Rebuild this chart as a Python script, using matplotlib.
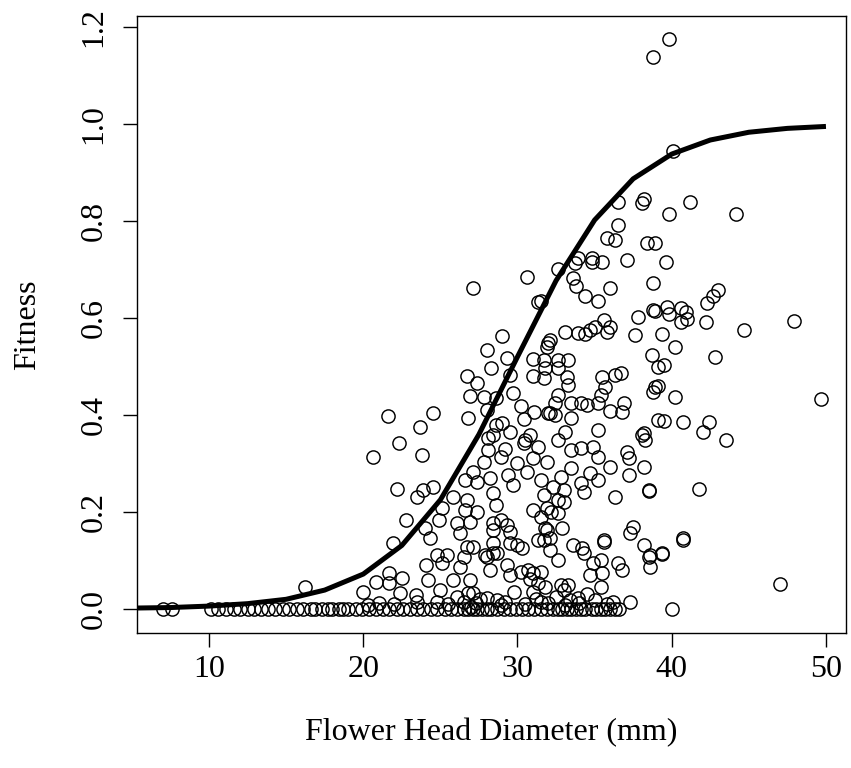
import matplotlib
matplotlib.use('Agg')
import matplotlib.pyplot as plt

plt.rcParams['font.family'] = ['Liberation Serif', 'DejaVu Serif']

# plants with zero fitness
zero_x = [7.0, 7.6, 10.1, 10.6, 11.1, 11.6, 12.0, 12.5, 12.9, 13.4, 13.8, 14.3,
          14.8, 15.2, 15.7, 16.1, 16.6, 16.9, 17.3, 17.7, 18.0, 18.4, 18.7, 19.0,
          19.5, 19.9, 20.4, 20.8, 21.3, 21.7, 22.2, 22.6, 23.0, 23.5, 23.9, 24.4,
          24.8, 25.3, 25.7, 26.1, 26.5, 26.8, 27.1, 27.4, 27.7, 28.0, 28.3, 28.7,
          29.1, 29.5, 29.9, 30.3, 30.7, 31.1, 31.5, 31.9, 32.3, 32.6, 32.9, 33.2,
          33.5, 33.8, 34.1, 34.4, 34.8, 35.1, 35.4, 35.7, 36.0, 36.3, 36.6, 40.0]

# low fitness (< 0.15)
low_pts = [(16.2, 0.045), (20.0, 0.035), (20.8, 0.056), (21.7, 0.074), (21.7, 0.054),
           (22.5, 0.064), (22.4, 0.033), (23.4, 0.029), (24.1, 0.091), (24.2, 0.060),
           (24.8, 0.112), (25.4, 0.112), (25.1, 0.095), (25.0, 0.039), (26.3, 0.087),
           (25.8, 0.060), (27.1, 0.128), (26.5, 0.107), (26.9, 0.060), (27.1, 0.033),
           (26.8, 0.033), (28.0, 0.107), (28.4, 0.116), (29.3, 0.091), (29.5, 0.070),
           (30.0, 0.132), (30.3, 0.126), (30.7, 0.081), (30.2, 0.076), (29.8, 0.035),
           (31.0, 0.035), (28.7, 0.019), (28.0, 0.023), (26.1, 0.025), (24.8, 0.014),
           (23.5, 0.014), (20.3, 0.008), (24.3, 0.147), (21.9, 0.136), (26.7, 0.128),
           (28.4, 0.136), (29.5, 0.136), (27.9, 0.111), (28.7, 0.115), (28.2, 0.080),
           (31.5, 0.076), (30.8, 0.062), (31.7, 0.143), (32.1, 0.122), (32.6, 0.101),
           (33.6, 0.132), (34.2, 0.126), (34.3, 0.116), (35.6, 0.138), (35.4, 0.101),
           (34.9, 0.095), (34.7, 0.070), (35.5, 0.074), (35.4, 0.045), (36.5, 0.095),
           (36.8, 0.081), (38.2, 0.132), (38.6, 0.112), (39.4, 0.116), (38.6, 0.087),
           (40.7, 0.143), (31.0, 0.074), (31.3, 0.054), (31.8, 0.045), (32.8, 0.050),
           (33.3, 0.050), (33.0, 0.039), (33.9, 0.023), (33.4, 0.019), (31.5, 0.014),
           (36.2, 0.014), (37.3, 0.014), (47.0, 0.052), (38.5, 0.107), (39.4, 0.113),
           (27.3, 0.012), (27.6, 0.020), (28.9, 0.008), (29.2, 0.015), (30.5, 0.010),
           (31.2, 0.020), (32.0, 0.012), (32.5, 0.025), (33.1, 0.008), (34.0, 0.012),
           (34.5, 0.030), (35.0, 0.018), (35.8, 0.010), (27.0, 0.005), (26.5, 0.015),
           (25.5, 0.010), (22.0, 0.010), (21.0, 0.012)]

# middle fitness (0.15 - 0.45)
mid_pts = [(21.6, 0.397), (24.5, 0.405), (23.7, 0.376), (22.3, 0.343), (20.6, 0.314),
           (23.8, 0.318), (22.2, 0.248), (23.5, 0.231), (23.9, 0.246), (24.5, 0.252),
           (22.8, 0.184), (24.9, 0.184), (26.9, 0.439), (27.8, 0.437), (28.6, 0.435),
           (29.7, 0.445), (26.8, 0.394), (28.0, 0.410), (30.2, 0.419), (31.1, 0.406),
           (30.4, 0.392), (28.6, 0.379), (29.0, 0.383), (29.5, 0.365), (28.4, 0.359),
           (28.1, 0.353), (30.8, 0.359), (30.5, 0.348), (31.3, 0.334), (28.1, 0.328),
           (29.2, 0.330), (28.9, 0.313), (32.0, 0.404), (30.4, 0.342), (30.0, 0.301),
           (31.0, 0.311), (27.8, 0.303), (27.1, 0.282), (28.2, 0.270), (29.4, 0.276),
           (30.6, 0.282), (31.5, 0.266), (26.6, 0.266), (27.4, 0.262), (29.7, 0.256),
           (25.8, 0.231), (26.7, 0.225), (28.4, 0.239), (31.7, 0.235), (25.1, 0.208),
           (26.6, 0.204), (27.4, 0.200), (28.6, 0.214), (31.0, 0.204), (31.5, 0.190),
           (26.1, 0.177), (26.9, 0.179), (28.4, 0.177), (28.9, 0.184), (29.3, 0.173),
           (24.0, 0.167), (26.3, 0.157), (28.4, 0.163), (29.5, 0.159), (31.8, 0.167),
           (31.3, 0.142), (32.6, 0.441), (35.4, 0.441), (38.8, 0.447), (32.4, 0.425),
           (33.5, 0.425), (34.1, 0.425), (34.5, 0.421), (35.2, 0.425), (36.9, 0.425),
           (32.1, 0.404), (33.5, 0.394), (36.0, 0.408), (36.8, 0.406), (32.4, 0.400),
           (35.2, 0.369), (33.1, 0.365), (38.2, 0.363), (39.1, 0.390), (32.6, 0.348),
           (38.1, 0.359), (38.3, 0.348), (31.9, 0.303), (33.5, 0.328), (34.1, 0.332),
           (34.9, 0.334), (35.2, 0.313), (36.0, 0.293), (37.1, 0.324), (37.2, 0.311),
           (38.2, 0.293), (37.2, 0.276), (32.8, 0.272), (33.5, 0.291), (34.7, 0.280),
           (35.2, 0.266), (34.1, 0.260), (32.3, 0.252), (33.0, 0.245), (34.3, 0.241),
           (36.3, 0.231), (38.5, 0.245), (32.6, 0.225), (33.0, 0.221), (31.9, 0.208),
           (32.2, 0.200), (32.6, 0.198), (37.5, 0.169), (37.3, 0.157), (32.9, 0.167),
           (31.9, 0.163), (35.6, 0.142), (32.1, 0.146), (40.2, 0.437), (49.7, 0.433),
           (39.5, 0.388), (40.7, 0.386), (42.4, 0.386), (42.0, 0.365), (43.5, 0.348),
           (38.5, 0.243), (41.8, 0.247), (40.7, 0.146)]

# high fitness (> 0.45)
high_pts = [(30.6, 0.685), (27.1, 0.662), (31.5, 0.635), (31.3, 0.633), (29.0, 0.563),
            (28.0, 0.534), (29.3, 0.518), (28.3, 0.497), (26.7, 0.480), (27.4, 0.466),
            (29.5, 0.482), (31.0, 0.515), (31.7, 0.513), (31.0, 0.480), (31.7, 0.476),
            (31.8, 0.497), (32.0, 0.548), (32.6, 0.701), (33.7, 0.713), (34.8, 0.715),
            (35.5, 0.715), (37.1, 0.720), (38.8, 0.672), (33.6, 0.682), (33.8, 0.666),
            (36.0, 0.662), (34.4, 0.645), (35.2, 0.635), (38.8, 0.616), (37.8, 0.602),
            (37.6, 0.565), (35.6, 0.596), (36.0, 0.581), (35.0, 0.581), (33.1, 0.571),
            (33.9, 0.569), (34.4, 0.567), (34.7, 0.575), (35.8, 0.571), (32.1, 0.555),
            (31.9, 0.540), (38.7, 0.524), (39.1, 0.499), (32.6, 0.513), (33.3, 0.513),
            (32.6, 0.497), (33.2, 0.478), (35.5, 0.478), (36.7, 0.487), (36.3, 0.482),
            (33.3, 0.462), (35.7, 0.458), (38.9, 0.458), (39.1, 0.460), (38.4, 0.755),
            (38.9, 0.755), (39.6, 0.715), (38.9, 0.614), (39.7, 0.623), (39.8, 0.608),
            (40.6, 0.621), (40.9, 0.612), (40.6, 0.592), (41.0, 0.598), (42.2, 0.592),
            (42.3, 0.631), (42.7, 0.645), (43.0, 0.658), (44.7, 0.575), (47.9, 0.594),
            (39.4, 0.567), (40.2, 0.540), (42.8, 0.520), (39.5, 0.503), (40.1, 0.944),
            (38.2, 0.845), (38.1, 0.838), (41.2, 0.839), (39.8, 0.814), (44.2, 0.814),
            (36.5, 0.839), (36.5, 0.792), (35.8, 0.765), (36.3, 0.761), (33.9, 0.724),
            (34.8, 0.724), (38.8, 1.138), (39.8, 1.176)]

# fitted selection curve
curve_x = [5.3, 7.5, 10, 12.5, 15, 17.5, 20, 22.5, 25, 27.5, 30, 32.5, 35, 37.5,
           40, 42.5, 45, 47.5, 50]
curve_y = [0.002, 0.003, 0.006, 0.011, 0.020, 0.039, 0.072, 0.131, 0.225, 0.360,
           0.520, 0.677, 0.802, 0.887, 0.938, 0.967, 0.983, 0.991, 0.995]

fig = plt.figure(figsize=(8.51, 7.68), dpi=100)
ax = fig.add_axes([137/851, 1 - 633/768, (846 - 137)/851, (633 - 16)/768])

circ = dict(linestyle='none', marker='o', mfc='none', mec='black', ms=9.5, mew=1.05)
ax.plot(zero_x, [0.0] * len(zero_x), **circ)
for pts in (low_pts, mid_pts, high_pts):
    ax.plot([p[0] for p in pts], [p[1] for p in pts], **circ)

ax.plot(curve_x, curve_y, color='black', lw=3.6, solid_capstyle='butt')

ax.set_xlim(5.33, 51.3)
ax.set_ylim(-0.0495, 1.2227)
ax.set_xticks([10, 20, 30, 40, 50])
ax.set_yticks([0.0, 0.2, 0.4, 0.6, 0.8, 1.0, 1.2])
ax.set_yticklabels(['0.0', '0.2', '0.4', '0.6', '0.8', '1.0', '1.2'])
ax.tick_params(direction='out', length=10, width=1.0, labelsize=23)
ax.tick_params(axis='x', pad=6)
ax.tick_params(axis='y', labelrotation=90, pad=10.5)
for lab in ax.get_yticklabels():
    lab.set_va('center')
for s in ax.spines.values():
    s.set_linewidth(1.0)

ax.set_xlabel('Flower Head Diameter (mm)', fontsize=23, labelpad=24)
ax.set_ylabel('Fitness', fontsize=23, labelpad=27)

fig.savefig('out.png', dpi=100)
